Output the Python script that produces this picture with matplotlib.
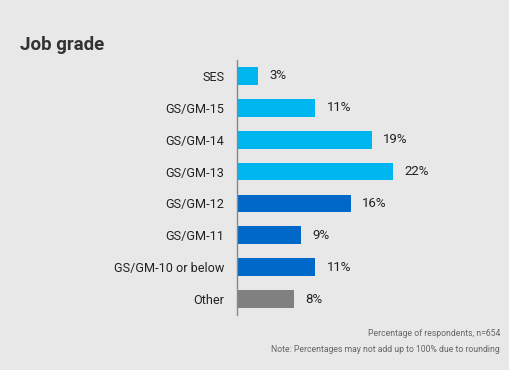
import numpy as np
import matplotlib.pyplot as plt

# Data
GRADES = ['SES', 'GS/GM-15', 'GS/GM-14', 'GS/GM-13', 'GS/GM-12',
          'GS/GM-11', 'GS/GM-10 or below', 'Other']
SHARE = [3, 11, 19, 22, 16, 9, 11, 8]
COLORS = ['#00B6F1'] * 4 + ['#0068C9'] * 3 + ['#808080']

BG = '#E8E8E8'
plt.rcParams['font.family'] = ['Roboto', 'DejaVu Sans']

fig = plt.figure(figsize=(5.1, 3.7), dpi=100, facecolor=BG)
ax = fig.add_axes([237 / 510, 1 - 315 / 370, 177.5 / 510, 255 / 370])
ax.set_facecolor(BG)

y = np.arange(len(GRADES))
ax.barh(y, SHARE, height=0.56, color=COLORS)
for yi, v in zip(y, SHARE):
    ax.text(v + 1.6, yi, '%d%%' % v, va='center', ha='left',
            fontsize=9.5, color='#222222')

ax.set_xlim(0, 25)
ax.set_ylim(len(GRADES) - 0.5, -0.5)
ax.set_yticks(y)
ax.set_yticklabels(GRADES, fontsize=9.1, color='#222222')
ax.tick_params(axis='y', length=0, pad=9)
ax.set_xticks([])
for s in ['top', 'right', 'bottom']:
    ax.spines[s].set_visible(False)
ax.spines['left'].set_color('#888888')
ax.spines['left'].set_linewidth(1.0)

fig.text(20 / 510, 1 - 45 / 370, 'Job grade', fontsize=13.5, fontweight='bold',
         color='#333333', va='center', ha='left')
fig.text(500 / 510, 1 - 334 / 370, 'Percentage of respondents, n=654',
         fontsize=6.2, color='#666666', ha='right', va='center')
fig.text(500 / 510, 1 - 349 / 370,
         'Note: Percentages may not add up to 100% due to rounding',
         fontsize=6.2, color='#666666', ha='right', va='center')

fig.savefig('out.png', dpi=100, facecolor=BG)
